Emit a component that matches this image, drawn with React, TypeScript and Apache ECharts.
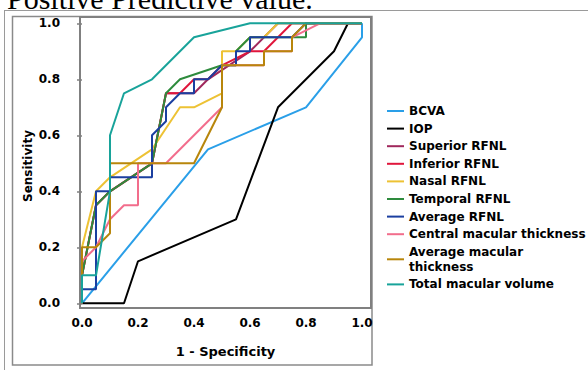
import React, { useEffect, useRef } from "react";
import * as echarts from "echarts";

const seriesNames = [
  "BCVA",
  "IOP",
  "Superior RFNL",
  "Inferior RFNL",
  "Nasal RFNL",
  "Temporal RFNL",
  "Average RFNL",
  "Central macular thickness",
  "Average macular thickness",
  "Total macular volume",
];

const seriesColors = [
  "#2A9FE8",
  "#000000",
  "#A0285C",
  "#E0163C",
  "#EDC234",
  "#2E8B3D",
  "#1B3FA0",
  "#F26D8C",
  "#B8860B",
  "#18A39A",
];

const bcva = [[0, 0], [0.45, 0.55], [0.8, 0.7], [1, 0.95], [1, 1]];
const iop = [[0, 0], [0.15, 0], [0.2, 0.15], [0.55, 0.3], [0.7, 0.7], [0.9, 0.9], [0.95, 1], [1, 1]];
const superiorRfnl = [[0, 0], [0, 0.1], [0.05, 0.35], [0.1, 0.4], [0.25, 0.5], [0.3, 0.75], [0.4, 0.75], [0.45, 0.8], [0.6, 0.9], [0.7, 1], [1, 1]];
const inferiorRfnl = [[0, 0], [0, 0.1], [0.05, 0.35], [0.1, 0.4], [0.25, 0.5], [0.3, 0.75], [0.35, 0.75], [0.4, 0.8], [0.45, 0.8], [0.5, 0.85], [0.6, 0.9], [0.65, 0.9], [0.75, 1], [1, 1]];
const nasalRfnl = [[0, 0], [0, 0.2], [0.05, 0.4], [0.1, 0.45], [0.25, 0.55], [0.35, 0.7], [0.4, 0.7], [0.5, 0.75], [0.5, 0.9], [0.55, 0.9], [0.6, 0.95], [0.65, 0.95], [0.7, 1], [1, 1]];
const temporalRfnl = [[0, 0], [0, 0.1], [0.05, 0.35], [0.1, 0.4], [0.25, 0.5], [0.3, 0.75], [0.35, 0.8], [0.5, 0.85], [0.55, 0.85], [0.55, 0.9], [0.6, 0.95], [0.8, 0.95], [0.8, 1], [1, 1]];
const averageRfnl = [[0, 0], [0, 0.05], [0.05, 0.05], [0.05, 0.4], [0.1, 0.4], [0.1, 0.45], [0.25, 0.45], [0.25, 0.6], [0.3, 0.65], [0.3, 0.7], [0.35, 0.75], [0.4, 0.75], [0.4, 0.8], [0.45, 0.8], [0.5, 0.85], [0.55, 0.85], [0.55, 0.9], [0.6, 0.9], [0.6, 0.95], [0.75, 0.95], [0.8, 1], [1, 1]];
const centralMacular = [[0, 0], [0, 0.15], [0.05, 0.2], [0.1, 0.3], [0.15, 0.35], [0.2, 0.35], [0.2, 0.5], [0.3, 0.5], [0.5, 0.7], [0.5, 0.85], [0.65, 0.85], [0.65, 0.9], [0.75, 0.9], [0.75, 0.95], [0.85, 1], [1, 1]];
const averageMacular = [[0, 0], [0, 0.2], [0.05, 0.2], [0.1, 0.25], [0.1, 0.5], [0.4, 0.5], [0.5, 0.7], [0.5, 0.85], [0.65, 0.85], [0.65, 0.9], [0.75, 0.9], [0.75, 0.95], [0.8, 1], [1, 1]];
const totalMacularVolume = [[0, 0], [0, 0.1], [0.05, 0.1], [0.1, 0.4], [0.1, 0.6], [0.15, 0.75], [0.25, 0.8], [0.4, 0.95], [0.6, 1], [1, 1]];

const seriesData = [
  bcva,
  iop,
  superiorRfnl,
  inferiorRfnl,
  nasalRfnl,
  temporalRfnl,
  averageRfnl,
  centralMacular,
  averageMacular,
  totalMacularVolume,
];

const FONT = "'DejaVu Sans', sans-serif";

export default function App() {
  const ref = useRef<HTMLDivElement>(null);
  useEffect(() => {
    if (!ref.current) return;
    const chart = echarts.init(ref.current, null, { renderer: "svg" });
    const option = {
      animation: false,
      backgroundColor: "#ffffff",
      grid: { left: 82, top: 23.3, width: 280, height: 280, containLabel: false },
      xAxis: {
        type: "value",
        min: 0,
        max: 1,
        interval: 0.2,
        offset: 5,
        splitLine: { show: false },
        axisLine: { show: false },
        axisTick: { show: false },
        axisLabel: {
          margin: 9,
          color: "#000",
          fontFamily: FONT,
          fontWeight: "bold",
          fontSize: 12,
          formatter: (v: number) => v.toFixed(1),
        },
      },
      yAxis: {
        type: "value",
        min: 0,
        max: 1,
        interval: 0.2,
        offset: 2,
        splitLine: { show: false },
        axisLine: { show: false },
        axisTick: { show: true, length: 5, lineStyle: { color: "#808080", width: 1.5 } },
        axisLabel: {
          margin: 20,
          color: "#000",
          fontFamily: FONT,
          fontWeight: "bold",
          fontSize: 12,
          formatter: (v: number) => v.toFixed(1),
        },
      },
      legend: {
        orient: "vertical",
        left: 387,
        top: 103.5,
        padding: 0,
        icon: "rect",
        itemWidth: 17,
        itemHeight: 2,
        itemGap: 2.6,
        textStyle: {
          color: "#000",
          fontFamily: FONT,
          fontWeight: "bold",
          fontSize: 12,
          lineHeight: 15,
        },
        formatter: (name: string) =>
          name === "Average macular thickness" ? "Average macular\nthickness" : name,
        data: seriesNames,
      },
      graphic: [
        {
          type: "text",
          x: 7,
          y: -2,
          style: {
            text: "Positive Predictive value.",
            fontSize: 30,
            fontFamily: "'Liberation Serif', serif",
            fill: "#000",
            align: "left",
            verticalAlign: "middle",
          },
          silent: true,
        },
        {
          type: "line",
          shape: { x1: 4, y1: 10.5, x2: 588, y2: 10.5 },
          style: { stroke: "#9a9a9a", lineWidth: 1 },
          silent: true,
        },
        {
          type: "line",
          shape: { x1: 4.5, y1: 10, x2: 4.5, y2: 370 },
          style: { stroke: "#9a9a9a", lineWidth: 1 },
          silent: true,
        },
        {
          type: "rect",
          shape: { x: 12.5, y: 16.5, width: 359.5, height: 348.5 },
          style: { stroke: "#8a8a8a", lineWidth: 1.5, fill: "none" },
          silent: true,
        },
        {
          type: "rect",
          shape: { x: 80, y: 17, width: 291, height: 291 },
          style: { stroke: "#808080", lineWidth: 2, fill: "none" },
          silent: true,
          z: 0,
        },
        {
          type: "text",
          x: 225.5,
          y: 351.7,
          style: {
            text: "1 - Specificity",
            fontSize: 13,
            fontWeight: "bold",
            fontFamily: FONT,
            fill: "#000",
            align: "center",
            verticalAlign: "middle",
          },
          silent: true,
        },
        {
          type: "text",
          x: 28,
          y: 166,
          rotation: Math.PI / 2,
          style: {
            text: "Sensitivity",
            fontSize: 12,
            fontWeight: "bold",
            fontFamily: FONT,
            fill: "#000",
            align: "center",
            verticalAlign: "middle",
          },
          silent: true,
        },
      ],
      series: seriesNames.map((name, i) => ({
        name,
        type: "line",
        data: seriesData[i],
        showSymbol: false,
        symbol: "none",
        clip: false,
        color: seriesColors[i],
        lineStyle: { color: seriesColors[i], width: 2 },
        z: 2 + i,
      })),
    };
    chart.setOption(option);
    return () => chart.dispose();
  }, []);
  return (
    <div
      ref={ref}
      style={{ position: "absolute", left: 0, top: 0, width: 588, height: 370 }}
    />
  );
}
